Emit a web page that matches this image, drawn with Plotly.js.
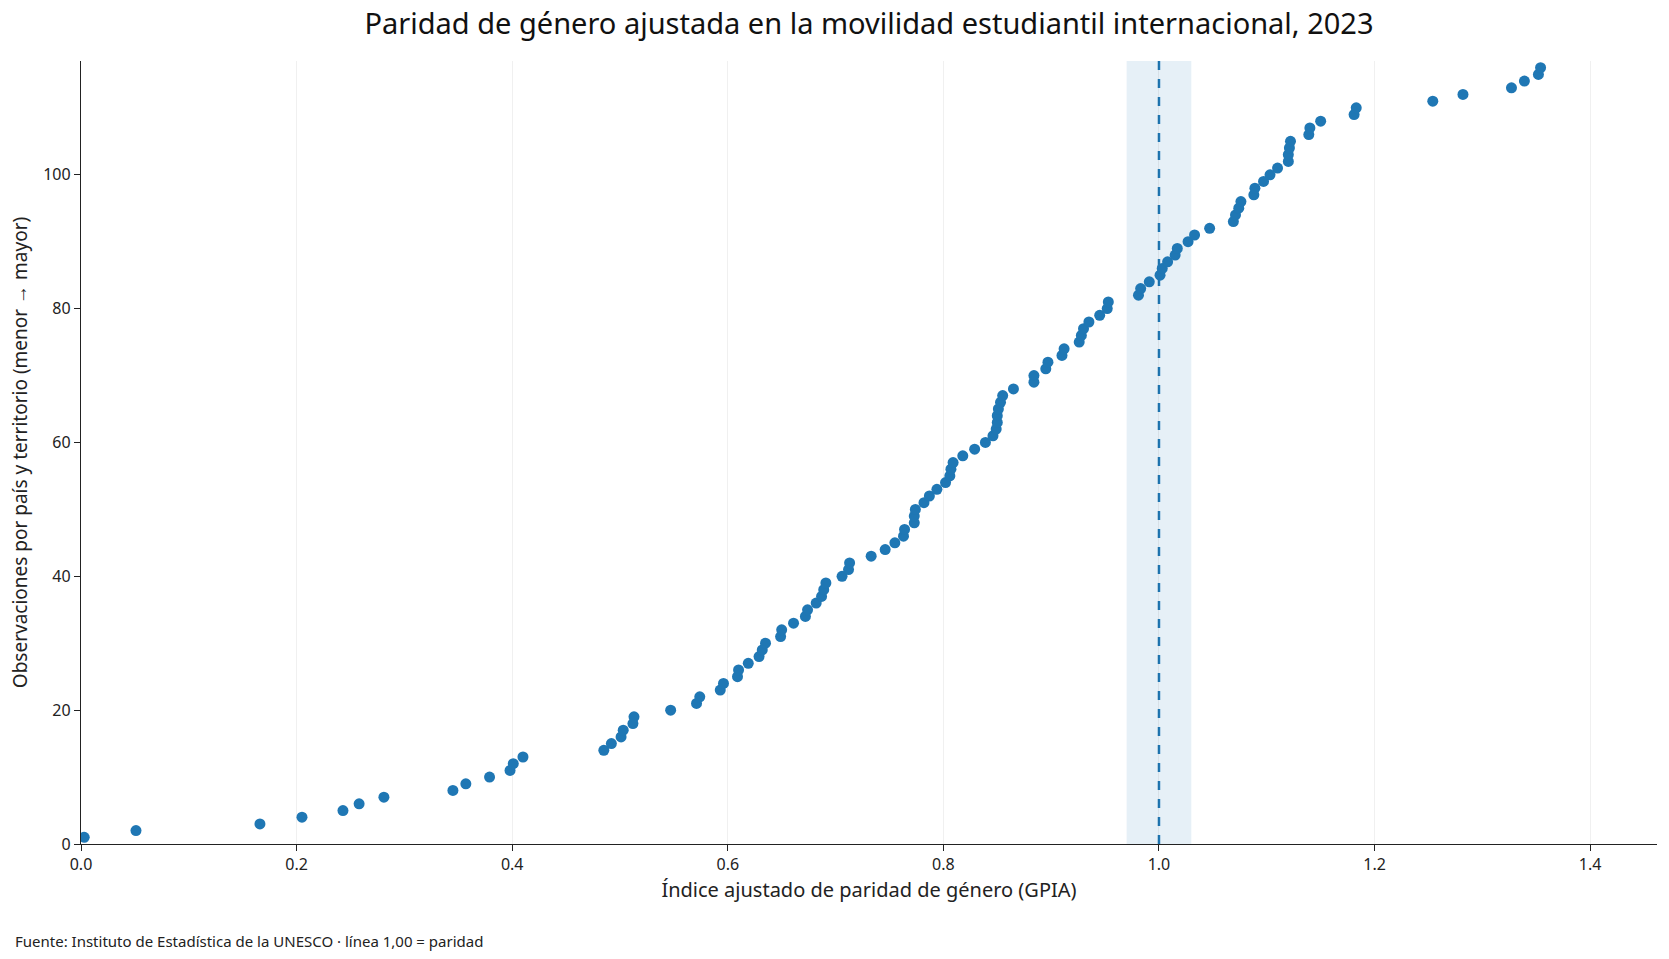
<!DOCTYPE html>
<html>
<head>
<meta charset="utf-8">
<script src="https://cdn.plot.ly/plotly-3.0.1.min.js"></script>
<style>
  html, body { margin: 0; padding: 0; background: #fff; }
  #chart { width: 1669px; height: 959px; }
</style>
</head>
<body>
<div id="chart"></div>
<script>
// GPIA sorted from lowest to highest, one value per country/territory
var gpia = [
    0.003, 0.051, 0.166, 0.205, 0.243, 0.258, 0.281, 0.345, 0.357, 0.379,
    0.398, 0.401, 0.410, 0.485, 0.492, 0.501, 0.503, 0.512, 0.513, 0.547,
    0.571, 0.574, 0.593, 0.596, 0.609, 0.610, 0.619, 0.629, 0.632, 0.635,
    0.649, 0.650, 0.661, 0.672, 0.674, 0.682, 0.687, 0.689, 0.691, 0.706,
    0.712, 0.713, 0.733, 0.746, 0.755, 0.763, 0.764, 0.773, 0.773, 0.774,
    0.782, 0.787, 0.794, 0.802, 0.806, 0.807, 0.809, 0.818, 0.829, 0.839,
    0.846, 0.849, 0.850, 0.850, 0.851, 0.853, 0.855, 0.865, 0.884, 0.884,
    0.895, 0.897, 0.910, 0.912, 0.926, 0.928, 0.930, 0.935, 0.945, 0.952,
    0.953, 0.981, 0.983, 0.991, 1.001, 1.003, 1.008, 1.015, 1.017, 1.027,
    1.033, 1.047, 1.069, 1.071, 1.074, 1.076, 1.088, 1.089, 1.097, 1.103,
    1.110, 1.120, 1.120, 1.121, 1.122, 1.139, 1.140, 1.150, 1.181, 1.183,
    1.254, 1.282, 1.327, 1.339, 1.352, 1.354
]
var rank = []
for (var i = 0; i < gpia.length; i++) {
    rank.push(i + 1)
}

var parity = 1.0
var parityBand = [0.97, 1.03]
var xTicks = [0, 0.2, 0.4, 0.6, 0.8, 1.0, 1.2, 1.4]
var xTickText = ['0.0', '0.2', '0.4', '0.6', '0.8', '1.0', '1.2', '1.4']

var blue = '#1f77b4'
var font = 'Noto Sans, Open Sans, sans-serif'

var data = {
    name: 'GPIA',
    x: gpia,
    y: rank,
    mode: 'markers',
    type: 'scatter',
    marker: { color: blue, size: 11 },
    hoverinfo: 'x+y'
}

var layout = {
    width: 1669,
    height: 959,
    hovermode: 'closest',
    margin: { l: 81, r: 12, t: 61, b: 115 },
    paper_bgcolor: 'white',
    plot_bgcolor: 'white',
    font: { family: font, color: '#222', size: 16 },
    showlegend: false,
    title: {
        text: 'Paridad de género ajustada en la movilidad estudiantil internacional, 2023',
        font: { family: font, size: 29, color: '#111' },
        xref: 'paper',
        x: 0.5,
        xanchor: 'center',
        y: 0.975,
        yanchor: 'middle'
    },
    xaxis: {
        range: [0, 1.462],
        tickvals: xTicks,
        ticktext: xTickText,
        ticks: 'outside',
        ticklen: 6,
        tickcolor: '#222',
        showline: true,
        linecolor: '#222',
        linewidth: 1.3,
        showgrid: true,
        gridcolor: 'rgba(0,0,0,0.06)',
        zeroline: false,
        fixedrange: true,
        title: {
            text: 'Índice ajustado de paridad de género (GPIA)',
            font: { family: font, size: 20, color: '#222' },
            standoff: 8
        }
    },
    yaxis: {
        range: [0, 117],
        tickvals: [0, 20, 40, 60, 80, 100],
        ticks: 'outside',
        ticklen: 6,
        tickcolor: '#222',
        showline: true,
        linecolor: '#222',
        linewidth: 1.3,
        showgrid: false,
        zeroline: false,
        fixedrange: true,
        title: {
            text: 'Observaciones por país y territorio (menor → mayor)',
            font: { family: font, size: 19, color: '#222' },
            standoff: 10
        }
    },
    shapes: [
        {
            type: 'rect',
            xref: 'x', yref: 'paper',
            x0: parityBand[0], x1: parityBand[1], y0: 0, y1: 1,
            fillcolor: 'rgba(31,119,180,0.11)',
            line: { width: 0 },
            layer: 'below'
        },
        {
            type: 'line',
            xref: 'x', yref: 'paper',
            x0: parity, x1: parity, y0: 0, y1: 1,
            line: { color: blue, width: 2.5, dash: 'dash' },
            layer: 'below'
        }
    ],
    annotations: [
        {
            text: 'Fuente: Instituto de Estadística de la UNESCO · línea 1,00 = paridad',
            xref: 'paper', yref: 'paper',
            x: -0.043, y: -0.108,
            xanchor: 'left', yanchor: 'top',
            showarrow: false,
            font: { family: font, size: 15, color: '#222' }
        }
    ]
}

var config = { responsive: false, displayModeBar: false }

Plotly.newPlot('chart', [data], layout, config)
</script>
</body>
</html>
